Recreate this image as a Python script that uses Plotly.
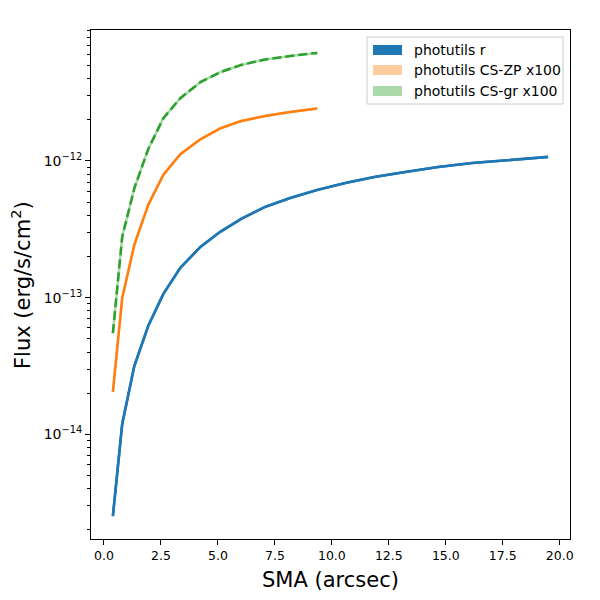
import plotly.graph_objects as go

# SMA (arcsec) for each isophote
sma_r = [0.39, 0.80, 1.33, 1.94, 2.60, 3.35, 4.23, 5.10, 6.02, 7.07,
         8.17, 9.36, 10.59, 11.86, 13.22, 14.66, 16.16, 17.74, 19.49]
flux_r = [2.52e-15, 1.19e-14, 3.16e-14, 6.2e-14, 1.06e-13, 1.65e-13, 2.35e-13,
          3.03e-13, 3.77e-13, 4.61e-13, 5.36e-13, 6.14e-13, 6.9e-13, 7.64e-13,
          8.31e-13, 9.03e-13, 9.66e-13, 1.02e-12, 1.07e-12]

sma_cs = [0.39, 0.80, 1.33, 1.94, 2.60, 3.35, 4.23, 5.10, 6.02, 7.07, 8.17, 9.36]
flux_zp = [2.04e-14, 9.95e-14, 2.43e-13, 4.77e-13, 7.9e-13, 1.12e-12,
           1.44e-12, 1.73e-12, 1.96e-12, 2.13e-12, 2.28e-12, 2.42e-12]
flux_gr = [5.5e-14, 2.79e-13, 6.3e-13, 1.22e-12, 2.05e-12, 2.88e-12,
           3.77e-12, 4.46e-12, 5.04e-12, 5.53e-12, 5.86e-12, 6.17e-12]

labels = ["photutils r", "photutils CS-ZP x100", "photutils CS-gr x100"]
blue, orange, green = "#1f77b4", "#ff7f0e", "#2ca02c"
patch_colors = [blue, "rgba(255,127,14,0.4)", "rgba(44,160,44,0.4)"]

fig = go.Figure()

# error bands (thin) under the lines
fig.add_trace(go.Scatter(x=sma_r, y=flux_r, mode="lines", line=dict(color=blue, width=2.6), showlegend=False))
fig.add_trace(go.Scatter(x=sma_cs, y=flux_zp, mode="lines", line=dict(color="rgba(255,127,14,0.4)", width=2.6), showlegend=False))
fig.add_trace(go.Scatter(x=sma_cs, y=flux_gr, mode="lines", line=dict(color="rgba(44,160,44,0.4)", width=2.6), showlegend=False))

fig.add_trace(go.Scatter(x=sma_r, y=flux_r, mode="lines", line=dict(color=blue, width=2.5), showlegend=False))
fig.add_trace(go.Scatter(x=sma_cs, y=flux_zp, mode="lines", line=dict(color=orange, width=2.5), showlegend=False))
fig.add_trace(go.Scatter(x=sma_cs, y=flux_gr, mode="lines", line=dict(color=green, width=2.5, dash="9px,4px"), showlegend=False))

# page body adds an 8px offset, so work in screen pixels and shift
OFF = 8
W, H = 600, 600
L, R, T, B = 91 - OFF, 38, 30 - OFF, 69
pw, ph = W - L - R, H - T - B
def px(x):
    return (x - OFF - L) / pw
def py(y):
    return (H - B - (y - OFF)) / ph

# legend drawn by hand to get matplotlib style patches
fig.add_shape(type="rect", xref="paper", yref="paper",
              x0=px(367), x1=px(563), y0=py(104), y1=py(37),
              line=dict(color="#cccccc", width=1), fillcolor="rgba(255,255,255,0.8)")
rows = [50, 70, 91]
for lab, col, yy in zip(labels, patch_colors, rows):
    fig.add_shape(type="rect", xref="paper", yref="paper",
                  x0=px(373), x1=px(402), y0=py(yy + 5), y1=py(yy - 5),
                  line=dict(width=0), fillcolor=col)
    fig.add_annotation(x=px(412), y=py(yy), xref="paper", yref="paper", text=lab,
                       showarrow=False, xanchor="left", yanchor="middle",
                       font=dict(size=14, color="black"))

fig.add_annotation(x=px(21), y=py(285), xref="paper", yref="paper",
                   text="Flux (erg/s/cm<sup>2</sup>)", textangle=-90, showarrow=False,
                   xanchor="center", yanchor="middle", font=dict(size=21, color="black"))
fig.add_annotation(x=px(330), y=py(580), xref="paper", yref="paper",
                   text="SMA (arcsec)", showarrow=False,
                   xanchor="center", yanchor="middle", font=dict(size=21, color="black"))

minor_vals = [m * 10.0 ** e for e in range(-15, -10) for m in range(2, 10)]

fig.update_layout(
    width=W, height=H,
    margin=dict(l=L, r=R, t=T, b=B, autoexpand=False),
    plot_bgcolor="white", paper_bgcolor="white",
    font=dict(family="DejaVu Sans", color="black"),
    showlegend=False,
)
fig.update_xaxes(
    range=[-0.57, 20.45], tickvals=[0, 2.5, 5, 7.5, 10, 12.5, 15, 17.5, 20],
    ticktext=["0.0", "2.5", "5.0", "7.5", "10.0", "12.5", "15.0", "17.5", "20.0"],
    ticks="outside", ticklen=5, tickcolor="black", tickfont=dict(size=12.5),
    showline=True, linecolor="black", linewidth=1, mirror=True,
    showgrid=False, zeroline=False,
)
fig.update_yaxes(
    type="log", range=[-14.766, -11.042],
    tickvals=[1e-14, 1e-13, 1e-12],
    ticktext=["10<sup>\u221214</sup>", "10<sup>\u221213</sup>", "10<sup>\u221212</sup>"],
    ticks="outside", ticklen=5, tickcolor="black", tickfont=dict(size=14),
    minor=dict(tickvals=minor_vals, ticks="outside", ticklen=3, tickcolor="black", showgrid=False),
    showline=True, linecolor="black", linewidth=1, mirror=True,
    showgrid=False, zeroline=False,
)

fig.write_html("out.html")
